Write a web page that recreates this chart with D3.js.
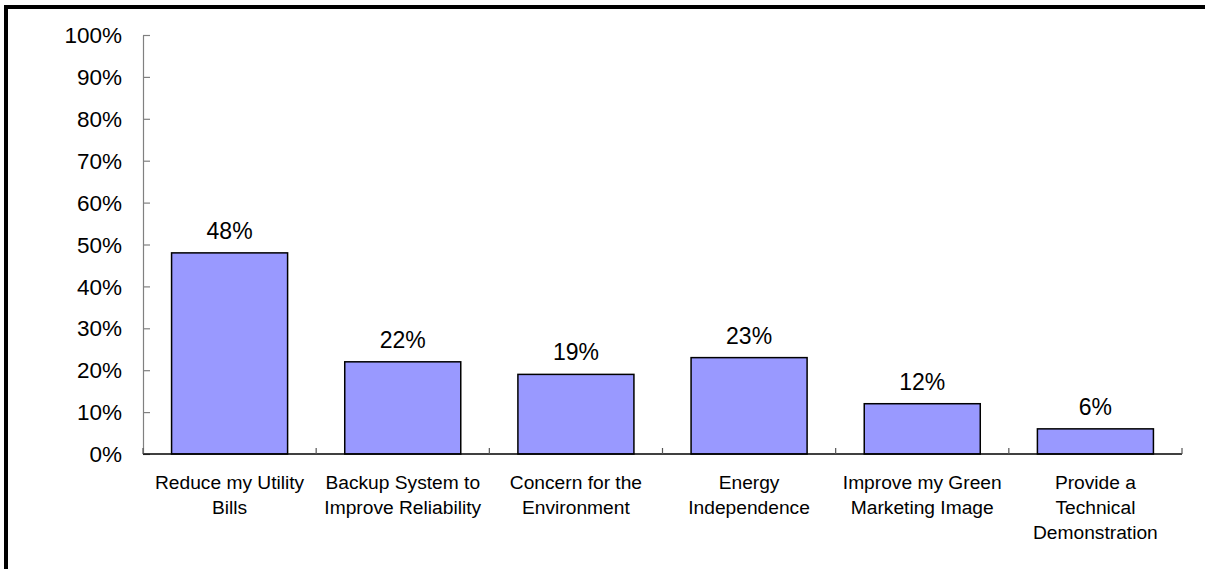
<!DOCTYPE html>
<html>
<head>
<meta charset="utf-8">
<script src="https://cdn.jsdelivr.net/npm/d3@7"></script>
<style>
  html, body { margin: 0; padding: 0; background: #fff; }
  svg { display: block; font-family: "Liberation Sans", Arial, sans-serif; }
</style>
</head>
<body>
<svg id="chart" width="1205" height="569"></svg>
<script>
// Reasons for installing on-site generation (share of respondents)
const categories = [
  "Reduce my Utility Bills",
  "Backup System to Improve Reliability",
  "Concern for the Environment",
  "Energy Independence",
  "Improve my Green Marketing Image",
  "Provide a Technical Demonstration"
];
const categoryLines = [
  ["Reduce my Utility", "Bills"],
  ["Backup System to", "Improve Reliability"],
  ["Concern for the", "Environment"],
  ["Energy", "Independence"],
  ["Improve my Green", "Marketing Image"],
  ["Provide a", "Technical", "Demonstration"]
];
const shares = [0.48, 0.22, 0.19, 0.23, 0.12, 0.06];
const yTicks = [0, 0.1, 0.2, 0.3, 0.4, 0.5, 0.6, 0.7, 0.8, 0.9, 1.0];

const svg = d3.select("#chart");
const W = 1205, H = 569;

// Frame around the chart area
svg.append("rect")
  .attr("x", 6).attr("y", 7)
  .attr("width", W + 20).attr("height", H + 20)
  .attr("fill", "none")
  .attr("stroke", "#000")
  .attr("stroke-width", 4);

const plot = { left: 143, right: 1182, top: 35, bottom: 454 };

const x = d3.scaleBand()
  .domain(categories)
  .range([plot.left, plot.right])
  .paddingInner(0.33)
  .paddingOuter(0.165);

const y = d3.scaleLinear()
  .domain([0, 1])
  .range([plot.bottom, plot.top]);

const pct = d3.format(".0%");

// Y axis: gray line, ticks pointing into the plot
const yAxis = svg.append("g")
  .attr("transform", `translate(${plot.left},0)`)
  .call(d3.axisRight(y).tickValues(yTicks).tickFormat("").tickSize(7).tickSizeOuter(0));
yAxis.select(".domain").attr("stroke", "#808080").attr("stroke-width", 1.2);
yAxis.selectAll(".tick line").attr("stroke", "#808080").attr("stroke-width", 1.2);

// Y tick labels
svg.append("g").selectAll("text")
  .data(yTicks)
  .join("text")
  .attr("x", 122)
  .attr("y", d => y(d))
  .attr("dy", "0.36em")
  .attr("text-anchor", "end")
  .attr("font-size", 22.5)
  .attr("fill", "#000")
  .text(d => pct(d));

// Bars
svg.append("g").selectAll("rect")
  .data(shares)
  .join("rect")
  .attr("x", (d, i) => x(categories[i]))
  .attr("y", d => y(d))
  .attr("width", x.bandwidth())
  .attr("height", d => y(0) - y(d))
  .attr("fill", "#9999FF")
  .attr("stroke", "#000")
  .attr("stroke-width", 1.5);

// X axis baseline with category boundary ticks
const step = x.step();
const boundaries = d3.range(categories.length + 1).map(i => plot.left + i * step);
svg.append("line")
  .attr("x1", plot.left).attr("x2", plot.right)
  .attr("y1", plot.bottom).attr("y2", plot.bottom)
  .attr("stroke", "#000").attr("stroke-width", 1.5);
svg.append("g").selectAll("line")
  .data(boundaries)
  .join("line")
  .attr("x1", d => d).attr("x2", d => d)
  .attr("y1", plot.bottom).attr("y2", plot.bottom - 6)
  .attr("stroke", "#555").attr("stroke-width", 1.2);

// Value labels above bars
svg.append("g").selectAll("text")
  .data(shares)
  .join("text")
  .attr("x", (d, i) => x(categories[i]) + x.bandwidth() / 2)
  .attr("y", d => y(d) - 14)
  .attr("text-anchor", "middle")
  .attr("font-size", 23)
  .attr("fill", "#000")
  .text(d => pct(d));

// Category labels below the axis
const catG = svg.append("g").selectAll("text")
  .data(categories)
  .join("text")
  .attr("text-anchor", "middle")
  .attr("font-size", 19.2)
  .attr("fill", "#000")
  .attr("x", d => x(d) + x.bandwidth() / 2)
  .attr("y", 489);
catG.selectAll("tspan")
  .data((d, i) => categoryLines[i].map(line => ({ line, cx: x(d) + x.bandwidth() / 2 })))
  .join("tspan")
  .attr("x", t => t.cx)
  .attr("dy", (t, j) => j === 0 ? 0 : 25)
  .text(t => t.line);
</script>
</body>
</html>
